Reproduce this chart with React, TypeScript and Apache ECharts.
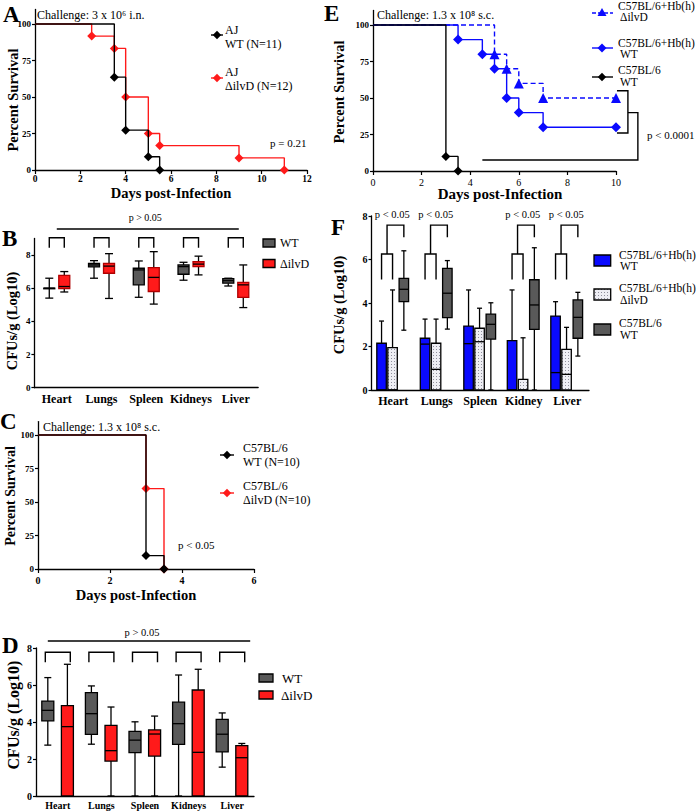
import React, { useEffect, useRef } from "react";
import * as echarts from "echarts";

const SERIF = "'Liberation Serif','Times New Roman',Times,serif";

// ---------- data ----------
const ORGANS_BD = ["Heart", "Lungs", "Spleen", "Kidneys", "Liver"];
const ORGANS_F = ["Heart", "Lungs", "Spleen", "Kidney", "Liver"];
const SURV_TICKS = [0, 25, 50, 75, 100];
const CFU_TICKS = [0, 2, 4, 6, 8];

// survival curves: [day, percent survival]
const A_WT = [[0, 100], [3.5, 63.6], [4, 27.3], [5, 9.1], [5.5, 0]];
const A_ILVD = [[0, 100], [2.5, 91.7], [3.5, 83.3], [4, 50], [5, 25], [5.5, 16.7], [9, 8.3], [11, 0]];
const C_WT = [[0, 100], [3, 10], [3.5, 0]];
const C_ILVD = [[0, 100], [3, 60], [3.5, 0]];
const E_B6_WT = [[0, 100], [3, 10], [3.5, 0]];
const E_HB_WT = [[0, 100], [3.5, 90], [4.5, 80], [5, 70], [5.5, 50], [6, 40], [7, 30], [10, 30]];
const E_HB_ILVD = [[0, 100], [5, 80], [5.5, 70], [6, 60], [7, 50], [10, 50]];

// box plots: [min, q1, median, q3, max]
const B_WT = [[5.4, 6.0, 6.0, 6.0, 6.6], [6.6, 7.28, 7.4, 7.5, 7.66], [5.45, 6.2, 7.1, 7.2, 7.64], [6.48, 6.84, 7.3, 7.4, 7.56], [6.13, 6.3, 6.45, 6.57, 6.6]];
const B_ILVD = [[5.77, 5.97, 6.1, 6.77, 7.0], [5.38, 6.9, 7.33, 7.5, 8.08], [5.04, 5.8, 6.65, 7.24, 8.2], [6.8, 7.3, 7.45, 7.6, 7.93], [4.83, 5.45, 6.2, 6.35, 7.4]];
const D_WT = [[2.75, 4.06, 4.63, 5.13, 6.4], [2.8, 3.33, 4.45, 5.59, 5.95], [0, 2.34, 3.02, 3.49, 4.01], [0, 2.79, 3.91, 5.07, 6.54], [1.56, 2.38, 3.34, 4.14, 4.49]];
const D_ILVD = [[0, 0, 3.75, 4.88, 7.12], [0, 1.89, 2.45, 3.82, 4.81], [0, 2.16, 3.35, 3.57, 4.32], [0, 0, 2.36, 5.73, 6.85], [0, 0, 2.07, 2.72, 2.84]];
const F_HB_WT = [[0, 0, 0, 2.15, 3.17], [0, 0, 2.11, 2.38, 3.26], [0, 0, 2.13, 2.94, 4.6], [0, 0, 0, 2.27, 4.6], [0, 0, 0.8, 3.4, 4.06]];
const F_HB_ILVD = [[0, 0, 0, 1.95, 4.6], [0, 0, 0.95, 2.15, 3.26], [0, 0, 2.22, 2.84, 3.76], [0, 0, 0, 0.49, 2.4], [0, 0, 0.72, 1.87, 2.88]];
const F_B6_WT = [[2.75, 4.06, 4.63, 5.13, 6.4], [2.8, 3.33, 4.45, 5.59, 5.95], [0, 2.34, 3.02, 3.49, 4.01], [0, 2.79, 3.91, 5.07, 6.54], [1.56, 2.38, 3.34, 4.14, 4.49]];
const F_SIG = [0, 1, 3, 4];

// ---------- styles ----------
const RED = "#ff1a1a";
const BLUE = "#0a0aff";
const GRAY = "#595959";
const DOT_SVG =
  "<svg xmlns='http://www.w3.org/2000/svg' width='3' height='3'><rect width='3' height='3' fill='#eeeef4'/><rect x='1' y='1' width='1' height='1' fill='#8f8f9c'/></svg>";
const DOT_FILL: any = {
  image: "data:image/svg+xml;utf8," + encodeURIComponent(DOT_SVG),
  repeat: "repeat",
  imageWidth: 3,
  imageHeight: 3,
};

const AXLINE = { show: true, onZero: false, lineStyle: { color: "#000", width: 1.3 } };

function valX(gi: number, max: number, margin: number, fs: number, bold = true) {
  return {
    type: "value", gridIndex: gi, min: 0, max, interval: 2,
    axisLine: AXLINE,
    axisTick: { show: true, length: 4, lineStyle: { color: "#000", width: 1.2 } },
    axisLabel: { color: "#000", fontFamily: SERIF, fontSize: fs, fontWeight: bold ? "bold" : "normal", margin },
    splitLine: { show: false },
  };
}
function survY(gi: number, fs: number) {
  return {
    type: "value", gridIndex: gi, min: 0, max: 110,
    axisLine: AXLINE,
    axisTick: { show: true, length: 3, customValues: SURV_TICKS, lineStyle: { color: "#000", width: 1.2 } },
    axisLabel: { customValues: SURV_TICKS, color: "#000", fontFamily: SERIF, fontSize: fs, fontWeight: "bold", margin: 4 },
    splitLine: { show: false },
  };
}
function cfuY(gi: number, max: number, fs: number) {
  return {
    type: "value", gridIndex: gi, min: 0, max,
    axisLine: AXLINE,
    axisTick: { show: true, length: 3, customValues: CFU_TICKS, lineStyle: { color: "#000", width: 1.2 } },
    axisLabel: { customValues: CFU_TICKS, color: "#000", fontFamily: SERIF, fontSize: fs, fontWeight: "bold", margin: 4 },
    splitLine: { show: false },
  };
}
function catX(gi: number, data: string[], fs: number, margin: number) {
  return {
    type: "category", gridIndex: gi, data,
    axisLine: AXLINE,
    axisTick: { show: false },
    axisLabel: { color: "#000", fontFamily: SERIF, fontSize: fs, fontWeight: "bold", margin, interval: 0 },
    splitLine: { show: false },
  };
}

function km(gi: number, data: number[][], color: string, symbol: string, size: number, z: number, dashed = false) {
  return {
    type: "line", xAxisIndex: gi, yAxisIndex: gi, step: "end", silent: true, z,
    data: data.map((p, i) => (i === 0 ? { value: p, symbol: "none" } : { value: p })),
    symbol, symbolSize: size, showSymbol: true,
    lineStyle: { color, width: 1.4, type: dashed ? [5, 3] : "solid" },
    itemStyle: { color, borderWidth: 0, opacity: 1 },
  };
}

function boxSeries(gi: number, data: number[][], offset: number, w: number, fill: any, stroke: string, capW: number) {
  return {
    type: "custom", xAxisIndex: gi, yAxisIndex: gi, clip: false, silent: true, z: 3,
    data: data.map((d, i) => [i, ...d]),
    encode: { x: 0, y: [1, 2, 3, 4, 5] },
    renderItem: (params: any, api: any) => {
      const i = api.value(0);
      const vals = [1, 2, 3, 4, 5].map((k) => api.value(k));
      const ys = vals.map((v) => api.coord([i, v])[1]);
      const cx = api.coord([i, vals[2]])[0] + offset;
      const lw = 1.3;
      const ln = (x1: number, y1: number, x2: number, y2: number) => ({
        type: "line", shape: { x1, y1, x2, y2 }, style: { stroke: "#000", lineWidth: lw },
      });
      return {
        type: "group",
        children: [
          ln(cx, ys[0], cx, ys[1]),
          ln(cx, ys[3], cx, ys[4]),
          ln(cx - capW / 2, ys[4], cx + capW / 2, ys[4]),
          ln(cx - capW / 2, ys[0], cx + capW / 2, ys[0]),
          {
            type: "rect",
            shape: { x: cx - w / 2, y: ys[3], width: w, height: Math.max(ys[1] - ys[3], 0.6) },
            style: { fill, stroke, lineWidth: lw },
          },
          ln(cx - w / 2, ys[2], cx + w / 2, ys[2]),
        ],
      };
    },
  };
}

function poly(points: number[][], lw = 1.4) {
  return { type: "polyline", shape: { points }, style: { stroke: "#000", fill: "none", lineWidth: lw } };
}
function ctext(text: string, x: number, y: number, size: number) {
  return {
    type: "text", x, y,
    style: { text, fontFamily: SERIF, fontSize: size, fill: "#000", align: "center", verticalAlign: "middle" },
  };
}

function annot(gi: number, build: (c: (x: number, y: number) => number[]) => any[]) {
  return {
    type: "custom", xAxisIndex: gi, yAxisIndex: gi, clip: false, silent: true, z: 5,
    data: [[0, 0]], encode: { x: 0, y: 1 },
    renderItem: (params: any, api: any) => ({
      type: "group",
      children: build((x, y) => api.coord([x, y])),
    }),
  };
}

// ---------- graphic helpers ----------
function T(text: string, x: number, y: number, size: number, o: any = {}) {
  return {
    type: "text", x, y, rotation: o.rot || 0, silent: true, z: 100,
    style: {
      text, fontFamily: SERIF, fontSize: size, fontWeight: o.bold ? "bold" : "normal",
      fill: "#000", align: o.align || "left", verticalAlign: "middle",
    },
  };
}
function L(x1: number, x2: number, y: number, color: string, dash?: number[]) {
  return { type: "line", silent: true, z: 100, shape: { x1, y1: y, x2, y2: y }, style: { stroke: color, lineWidth: 1.4, lineDash: dash } };
}
function DIA(cx: number, cy: number, r: number, color: string) {
  return { type: "polygon", silent: true, z: 101, shape: { points: [[cx, cy - r], [cx + r, cy], [cx, cy + r], [cx - r, cy]] }, style: { fill: color } };
}
function TRI(cx: number, cy: number, r: number, color: string) {
  return { type: "polygon", silent: true, z: 101, shape: { points: [[cx, cy - r], [cx + r, cy + r * 0.8], [cx - r, cy + r * 0.8]] }, style: { fill: color } };
}
function R(x: number, y: number, w: number, h: number, fill: any) {
  return { type: "rect", silent: true, z: 100, shape: { x, y, width: w, height: h }, style: { fill, stroke: "#000", lineWidth: 1.3 } };
}

function buildOption() {
  const grids = [
    { left: 35, top: 9.4, width: 272, height: 160.6 }, // A
    { left: 34.4, top: 238.4, width: 223.75, height: 149.3 }, // B
    { left: 38, top: 421.6, width: 216, height: 147.4 }, // C
    { left: 36, top: 648, width: 218, height: 148 }, // D
    { left: 373, top: 10.4, width: 243, height: 160.6 }, // E
    { left: 371.5, top: 216, width: 217.5, height: 174 }, // F
  ];

  const xAxis = [
    valX(0, 12, 4, 9.5),
    catX(1, ORGANS_BD, 12, 5),
    valX(2, 6, 6, 10),
    catX(3, ORGANS_BD, 10, 4),
    valX(4, 10, 6, 10, false),
    catX(5, ORGANS_F, 12, 5),
  ];
  const yAxis = [survY(0, 9), cfuY(1, 9, 9), survY(2, 9), cfuY(3, 8, 10), survY(4, 9), cfuY(5, 8, 10)];

  const series: any[] = [
    // A
    km(0, A_ILVD, RED, "diamond", 9, 3),
    km(0, A_WT, "#000", "diamond", 9, 4),
    // C
    km(2, C_ILVD, RED, "diamond", 9, 3),
    km(2, C_WT, "#000", "diamond", 9, 4),
    // E
    km(4, E_HB_ILVD, BLUE, "triangle", 10, 3, true),
    km(4, E_HB_WT, BLUE, "diamond", 10, 4),
    km(4, E_B6_WT, "#000", "diamond", 9, 5),
    // B boxes
    boxSeries(1, B_WT, -7.5, 11, GRAY, "#000", 8),
    boxSeries(1, B_ILVD, 7.5, 11, RED, "#b00000", 8),
    // D boxes
    boxSeries(3, D_WT, -10, 12, GRAY, "#000", 7),
    boxSeries(3, D_ILVD, 9.6, 12, RED, "#000", 7),
    // F boxes
    boxSeries(5, F_HB_WT, -11.7, 9.5, BLUE, "#000", 5),
    boxSeries(5, F_HB_ILVD, -0.7, 9.5, DOT_FILL, "#000", 5),
    boxSeries(5, F_B6_WT, 10.6, 9.5, GRAY, "#000", 5),
    // B annotations
    annot(1, (c) => {
      const kids: any[] = [];
      ORGANS_BD.forEach((_, i) => {
        const [x, yt] = c(i, 9.04);
        const yb = c(i, 8.44)[1];
        kids.push(poly([[x - 7.5, yb], [x - 7.5, yt], [x + 7.5, yt], [x + 7.5, yb]]));
      });
      const [x0, yl] = c(0, 9.57);
      const x4 = c(4, 9.57)[0];
      kids.push(poly([[x0, yl], [x4 + 3, yl]]));
      const [xt, yt] = c(2, 10.25);
      kids.push(ctext("p > 0.05", xt - 1, yt, 10));
      return kids;
    }),
    // D annotations
    annot(3, (c) => {
      const kids: any[] = [];
      ORGANS_BD.forEach((_, i) => {
        const [x, yt] = c(i, 7.77);
        const yb = c(i, 7.23)[1];
        kids.push(poly([[x - 12.5, yb], [x - 12.5, yt], [x + 12.5, yt], [x + 12.5, yb]]));
      });
      const [x0, yl] = c(0, 8.38);
      const x4 = c(4, 8.38)[0];
      kids.push(poly([[x0 - 10, yl], [x4 + 18, yl]]));
      const [xt, yt] = c(2, 8.86);
      kids.push(ctext("p > 0.05", xt - 3, yt, 10.5));
      return kids;
    }),
    // F annotations
    annot(5, (c) => {
      const kids: any[] = [];
      F_SIG.forEach((i) => {
        const cx = c(i, 0)[0];
        const xb = cx - 11.7, xd = cx - 0.7, xg = cx + 10.6;
        const y1 = c(i, 5.08)[1], y2 = c(i, 6.25)[1], y3 = c(i, 7.58)[1], y4 = c(i, 7.02)[1];
        kids.push(poly([[xb, y1], [xb, y2], [xd, y2], [xd, y1]]));
        const xm = (xb + xd) / 2;
        kids.push(poly([[xm, y2], [xm, y3], [xg, y3], [xg, y4]]));
        kids.push(ctext("p < 0.05", cx - 1, c(i, 8.05)[1], 10.5));
      });
      return kids;
    }),
    // E annotation
    annot(4, (c) => {
      const p = (pts: number[][]) => pts.map((q) => c(q[0], q[1]));
      return [
        poly(p([[10.04, 55], [10.49, 55], [10.49, 26], [10.04, 26]])),
        poly(p([[10.49, 40], [10.9, 40], [10.9, 7.5], [4.5, 7.5]])),
      ];
    }),
  ];

  const g: any[] = [
    // panel letters
    T("A", 3, 14, 23, { bold: true }),
    T("B", 2, 238, 23, { bold: true }),
    T("C", 0, 421, 23, { bold: true }),
    T("D", 2, 645, 23, { bold: true }),
    T("E", 324, 13, 23, { bold: true }),
    T("F", 331, 227, 23, { bold: true }),
    // axis titles
    T("Percent Survival", 13, 100, 14.5, { bold: true, rot: Math.PI / 2, align: "center" }),
    T("CFUs/g (Log10)", 12, 321, 14.5, { bold: true, rot: Math.PI / 2, align: "center" }),
    T("Percent Survival", 10, 496, 14, { bold: true, rot: Math.PI / 2, align: "center" }),
    T("CFUs/g (Log10)", 13, 715, 16, { bold: true, rot: Math.PI / 2, align: "center" }),
    T("Percent Survival", 339, 92, 14.5, { bold: true, rot: Math.PI / 2, align: "center" }),
    T("CFUs/g (Log10)", 339, 305, 14.5, { bold: true, rot: Math.PI / 2, align: "center" }),
    T("Days post-Infection", 171, 193, 14.5, { bold: true, align: "center" }),
    T("Days post-Infection", 136, 595, 14.5, { bold: true, align: "center" }),
    T("Days post-Infection", 500, 194, 15, { bold: true, align: "center" }),
    // challenge notes
    T("Challenge: 3 x 10\u2076 i.n.", 37, 15, 12),
    T("Challenge: 1.3 x 10\u2078 s.c.", 43, 427, 12),
    T("Challenge: 1.3 x 10\u2078 s.c.", 377, 15, 12),
    // p-values
    T("p = 0.21", 270, 143, 11),
    T("p < 0.05", 178, 545, 11),
    T("p < 0.0001", 647, 135, 11),
    // legend A
    L(211, 223, 35, "#000"), DIA(217, 35, 4.2, "#000"),
    T("AJ", 225, 30, 12), T("WT (N=11)", 225, 44, 12),
    L(211, 223, 78, RED), DIA(217, 78, 4.2, RED),
    T("AJ", 225, 72, 12), T("\u0394ilvD (N=12)", 225, 86, 12),
    // legend C
    L(220, 234, 455, "#000"), DIA(227, 455, 4.2, "#000"),
    T("C57BL/6", 243, 448, 12), T("WT (N=10)", 243, 462, 12),
    L(220, 234, 493, RED), DIA(227, 493, 4.2, RED),
    T("C57BL/6", 243, 486, 12), T("\u0394ilvD (N=10)", 243, 500, 12),
    // legend E
    L(592, 613, 13, BLUE, [4, 2]), TRI(602, 12.5, 4.5, BLUE),
    T("C57BL/6+Hb(h)", 618, 5.5, 11.5), T("\u0394ilvD", 620, 16.5, 11.5),
    L(592, 613, 48, BLUE), DIA(602, 48, 4.5, BLUE),
    T("C57BL/6+Hb(h)", 618, 42.5, 11.5), T("WT", 620, 53.5, 11.5),
    L(592, 613, 77, "#000"), DIA(602, 77, 4.2, "#000"),
    T("C57BL/6", 618, 70, 11.5), T("WT", 620, 81.5, 11.5),
    // legend B
    R(263, 239, 12, 8, GRAY), T("WT", 280, 243, 12),
    R(263, 259.5, 12, 8, RED), T("\u0394ilvD", 280, 264, 12),
    // legend D
    R(259, 674, 14, 8, GRAY), T("WT", 282, 678, 13),
    R(259, 691, 14, 8, RED), T("\u0394ilvD", 281, 695, 13),
    // legend F
    R(594, 255, 16.7, 11, BLUE), T("C57BL/6+Hb(h)", 619, 255, 11.5), T("WT", 620, 266, 11.5),
    R(594, 289, 16.7, 11, DOT_FILL), T("C57BL/6+Hb(h)", 619, 288, 11.5), T("\u0394ilvD", 620, 299.5, 11.5),
    R(594, 324, 16.7, 11, GRAY), T("C57BL/6", 619, 323, 11.5), T("WT", 620, 334.5, 11.5),
  ];

  return {
    animation: false,
    backgroundColor: "#fff",
    textStyle: { fontFamily: SERIF },
    grid: grids,
    xAxis,
    yAxis,
    series,
    graphic: { elements: g },
  };
}

export default function App() {
  const ref = useRef<HTMLDivElement>(null);
  useEffect(() => {
    const chart = echarts.init(ref.current as HTMLDivElement, null, { renderer: "svg" });
    chart.setOption(buildOption() as any);
    return () => chart.dispose();
  }, []);
  return (
    <div
      ref={ref}
      style={{ position: "absolute", left: 0, top: 0, width: 696, height: 811, background: "#fff" }}
    />
  );
}
